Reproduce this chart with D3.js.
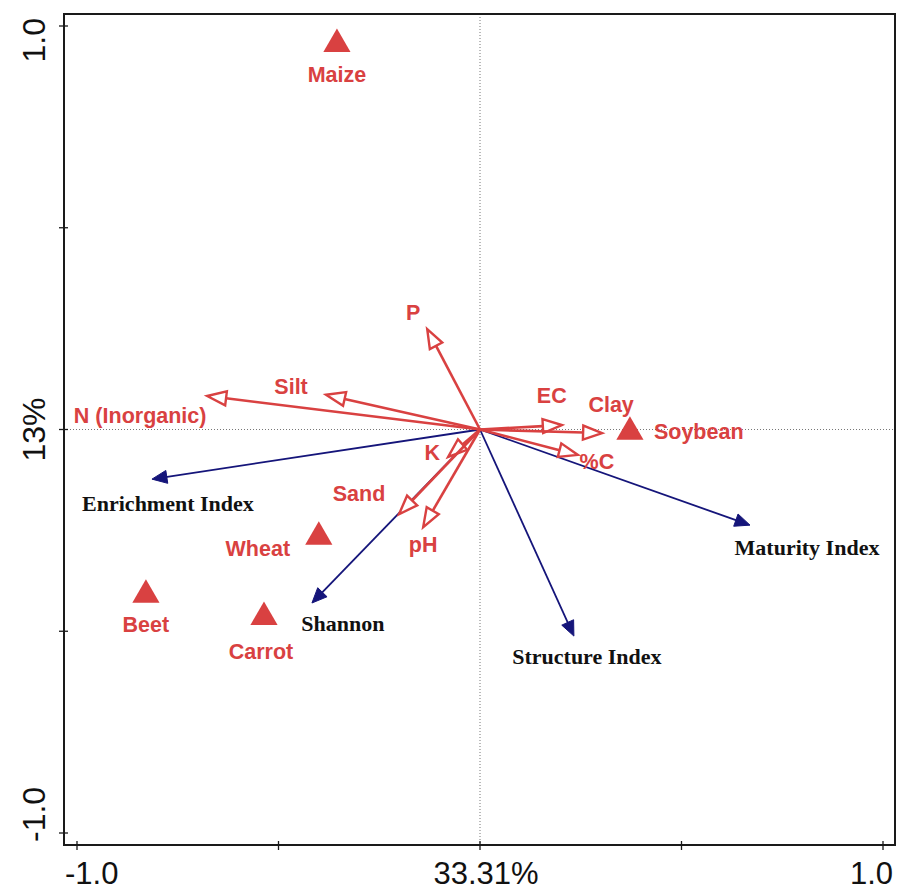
<!DOCTYPE html>
<html>
<head>
<meta charset="utf-8">
<script src="https://cdn.jsdelivr.net/npm/d3@7"></script>
<style>
  html, body { margin: 0; padding: 0; background: #fff; }
  svg { display: block; }
</style>
</head>
<body>
<svg id="chart" width="897" height="893"></svg>
<script>
// ---------------- DATA ----------------
const axisTicks = [-1, -0.5, 0, 0.5, 1];
const xTickLabels = ["-1.0", "33.31%", "1.0"];
const yTickLabels = ["-1.0", "13%", "1.0"];

const cropNames = ["Maize", "Soybean", "Wheat", "Beet", "Carrot"];
const cropX = [-0.355, 0.372, -0.400, -0.829, -0.536];
const cropY = [0.955, -0.006, -0.266, -0.410, -0.465];

const envNames = ["P", "Silt", "N (Inorganic)", "EC", "Clay", "%C", "K", "Sand", "pH"];
const envX = [-0.131, -0.382, -0.677, 0.203, 0.303, 0.243, -0.079, -0.201, -0.141];
const envY = [0.249, 0.086, 0.083, 0.011, -0.009, -0.063, -0.068, -0.210, -0.242];

const idxNames = ["Enrichment Index", "Shannon", "Maturity Index", "Structure Index"];
const idxX = [-0.814, -0.417, 0.670, 0.233];
const idxY = [-0.123, -0.430, -0.237, -0.512];

// ---------------- LAYOUT ----------------
const frame = { left: 64, top: 14, right: 895, bottom: 845 };
const RED = "#d94141";
const NAVY = "#15157a";

// label offsets (pixels) from mark
const envLabelOff = {
  "P": [-14, -16], "Silt": [-35, -8], "N (Inorganic)": [-67, 20], "EC": [-10, -29],
  "Clay": [9, -28], "%C": [19, 7], "K": [-16, -4], "Sand": [-40, -20], "pH": [0, 18]
};
const idxLabelOff = {
  "Enrichment Index": [16, 24], "Shannon": [31, 20], "Maturity Index": [57, 22], "Structure Index": [13, 20]
};
const cropLabelOff = {
  "Maize": [0, 31, "middle"], "Soybean": [24, 0, "start"], "Wheat": [-61, 12, "middle"],
  "Beet": [0, 30, "middle"], "Carrot": [-3, 35, "middle"]
};

const svg = d3.select("#chart");
const x = d3.scaleLinear().domain([-1, 1]).range([77, 883]);
const y = d3.scaleLinear().domain([-1, 1]).range([833, 26]);

// dotted zero lines
svg.append("line")
  .attr("x1", x(0)).attr("x2", x(0)).attr("y1", frame.top).attr("y2", frame.bottom)
  .attr("stroke", "#777").attr("stroke-width", 1).attr("stroke-dasharray", "1,2");
svg.append("line")
  .attr("x1", frame.left).attr("x2", frame.right).attr("y1", y(0)).attr("y2", y(0))
  .attr("stroke", "#777").attr("stroke-width", 1).attr("stroke-dasharray", "1,2");

// frame
svg.append("rect")
  .attr("x", frame.left).attr("y", frame.top)
  .attr("width", frame.right - frame.left).attr("height", frame.bottom - frame.top)
  .attr("fill", "none").attr("stroke", "#1a1a1a").attr("stroke-width", 2);

// ticks
svg.selectAll(".xt").data(axisTicks).enter().append("line")
  .attr("x1", d => x(d)).attr("x2", d => x(d))
  .attr("y1", frame.bottom - 4).attr("y2", frame.bottom + 5)
  .attr("stroke", "#1a1a1a").attr("stroke-width", 1.3);
svg.selectAll(".yt").data(axisTicks).enter().append("line")
  .attr("y1", d => y(d)).attr("y2", d => y(d))
  .attr("x1", frame.left - 5).attr("x2", frame.left + 4)
  .attr("stroke", "#1a1a1a").attr("stroke-width", 1.3);

// tick labels
const tickFont = "Liberation Sans, Arial, sans-serif";
const xl = [[x(-1) - 12, "start"], [x(0) + 6, "middle"], [frame.right - 2, "end"]];
xTickLabels.forEach((t, i) => {
  svg.append("text").attr("x", xl[i][0]).attr("y", 884)
    .attr("text-anchor", xl[i][1]).attr("font-family", tickFont).attr("font-size", 31)
    .attr("fill", "#111").text(t);
});
const yl = [[frame.bottom - 3, "start"], [y(0), "middle"], [18, "end"]];
yTickLabels.forEach((t, i) => {
  svg.append("text")
    .attr("transform", `translate(45,${yl[i][0]}) rotate(-90)`)
    .attr("text-anchor", yl[i][1]).attr("font-family", tickFont).attr("font-size", 32)
    .attr("fill", "#111").text(t);
});

const ox = x(0), oy = y(0);

// blue index arrows
const idx = idxNames.map((n, i) => ({ name: n, x: idxX[i], y: idxY[i] }));
idx.forEach(d => {
  const tx = x(d.x), ty = y(d.y);
  const ang = Math.atan2(ty - oy, tx - ox);
  const L = 15, W = 6.5;
  const bx = tx - L * Math.cos(ang), by = ty - L * Math.sin(ang);
  svg.append("line").attr("x1", ox).attr("y1", oy).attr("x2", bx + 3 * Math.cos(ang)).attr("y2", by + 3 * Math.sin(ang))
    .attr("stroke", NAVY).attr("stroke-width", 1.8);
  const px = -Math.sin(ang), py = Math.cos(ang);
  svg.append("path")
    .attr("d", `M${tx},${ty}L${bx + W * px},${by + W * py}L${bx - W * px},${by - W * py}Z`)
    .attr("fill", NAVY).attr("stroke", NAVY).attr("stroke-width", 1);
  const off = idxLabelOff[d.name];
  svg.append("text").attr("x", tx + off[0]).attr("y", ty + off[1])
    .attr("text-anchor", "middle").attr("dominant-baseline", "central")
    .attr("font-family", "Liberation Serif, Times New Roman, serif").attr("font-weight", "bold")
    .attr("font-size", 22).attr("fill", "#111").text(d.name);
});

// red environment arrows
const env = envNames.map((n, i) => ({ name: n, x: envX[i], y: envY[i] }));
env.forEach(d => {
  const tx = x(d.x), ty = y(d.y);
  const ang = Math.atan2(ty - oy, tx - ox);
  const L = 19, W = 7;
  const bx = tx - L * Math.cos(ang), by = ty - L * Math.sin(ang);
  svg.append("line").attr("x1", ox).attr("y1", oy).attr("x2", bx).attr("y2", by)
    .attr("stroke", RED).attr("stroke-width", 2.6);
  const px = -Math.sin(ang), py = Math.cos(ang);
  svg.append("path")
    .attr("d", `M${tx},${ty}L${bx + W * px},${by + W * py}L${bx - W * px},${by - W * py}Z`)
    .attr("fill", "#fff").attr("stroke", RED).attr("stroke-width", 2.4).attr("stroke-linejoin", "miter");
});
env.forEach(d => {
  const tx = x(d.x), ty = y(d.y);
  const off = envLabelOff[d.name];
  svg.append("text").attr("x", tx + off[0]).attr("y", ty + off[1])
    .attr("text-anchor", "middle").attr("dominant-baseline", "central")
    .attr("font-family", "Liberation Sans, Arial, sans-serif").attr("font-weight", "bold")
    .attr("font-size", 21.5).attr("fill", RED).text(d.name);
});

// crop triangles
const crops = cropNames.map((n, i) => ({ name: n, x: cropX[i], y: cropY[i] }));
const tri = d3.symbol().type(d3.symbolTriangle).size(320);
crops.forEach(d => {
  const cx = x(d.x), cy = y(d.y);
  svg.append("path").attr("d", tri()).attr("transform", `translate(${cx},${cy})`)
    .attr("fill", RED);
  const off = cropLabelOff[d.name];
  svg.append("text").attr("x", cx + off[0]).attr("y", cy + off[1])
    .attr("text-anchor", off[2]).attr("dominant-baseline", "central")
    .attr("font-family", "Liberation Sans, Arial, sans-serif").attr("font-weight", "bold")
    .attr("font-size", 21.5).attr("fill", RED).text(d.name);
});
</script>
</body>
</html>
